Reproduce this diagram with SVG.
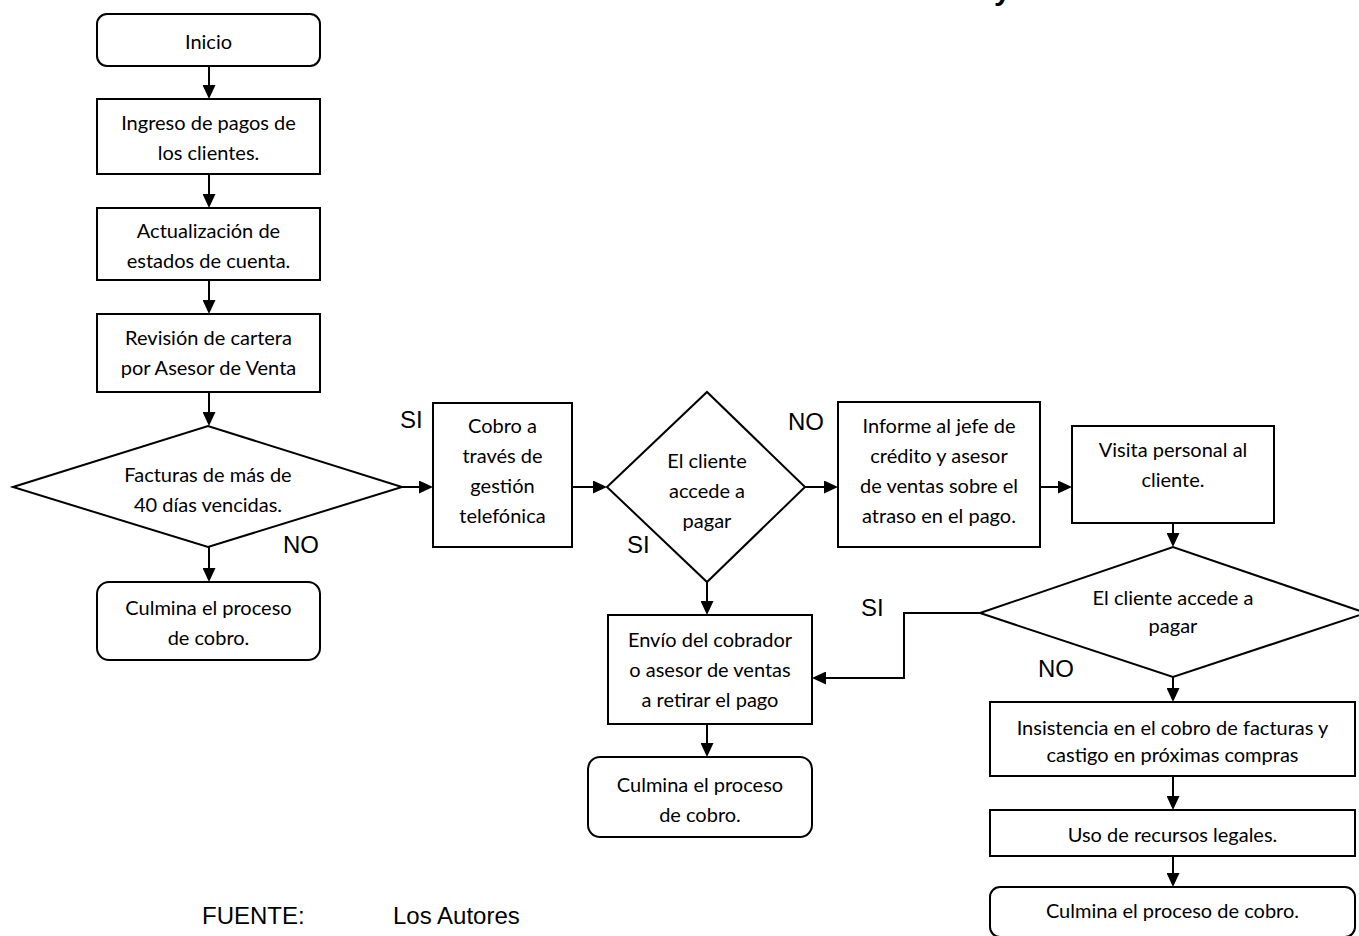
<svg xmlns="http://www.w3.org/2000/svg" width="1359" height="936" viewBox="0 0 1359 936">
  <style>
    .box { fill: #ffffff; stroke: #000000; stroke-width: 2; }
    .t { font-family: Lato, "Liberation Sans", sans-serif; font-size: 20px; fill: #000000; text-anchor: middle; }
    .lbl { font-family: "Liberation Sans", Arial, sans-serif; font-size: 24px; fill: #000000; }
    .edge { fill: none; stroke: #000000; stroke-width: 2; marker-end: url(#arrow); }
  </style>
  <defs>
    <marker id="arrow" markerUnits="userSpaceOnUse" markerWidth="14" markerHeight="13" refX="11" refY="6.5" orient="auto">
      <path d="M0,0 L14,6.5 L0,13 z" fill="#000000"/>
    </marker>
  </defs>
  <rect width="1359" height="936" fill="#ffffff"/>

  <!-- heading fragment above the frame -->
  <text x="994" y="0" font-family="Liberation Sans, Arial, sans-serif" font-size="30" font-weight="bold">y</text>

  <g id="connectors">
    <path class="edge" d="M209,66 V96"/>
    <path class="edge" d="M209,174 V205"/>
    <path class="edge" d="M209,280 V311"/>
    <path class="edge" d="M209,392 V423"/>
    <path class="edge" d="M209,547 V579"/>
    <path class="edge" d="M402,487 H430"/>
    <path class="edge" d="M572,487 H604"/>
    <path class="edge" d="M805,487 H835"/>
    <path class="edge" d="M1040,487 H1069"/>
    <path class="edge" d="M1173,523 V544"/>
    <path class="edge" d="M707,582 V612"/>
    <path class="edge" d="M707,724 V754"/>
    <path class="edge" d="M980,613 H904 V678 H815"/>
    <path class="edge" d="M1173,677 V699"/>
    <path class="edge" d="M1173,776 V807"/>
    <path class="edge" d="M1173,856 V884"/>
  </g>

  <g id="inicio">
    <rect class="box" x="97" y="14" width="223" height="52" rx="10"/>
    <text class="t" x="208.5" y="49">Inicio</text>
  </g>
  <g id="ingreso">
    <rect class="box" x="97" y="99" width="223" height="75"/>
    <text class="t" x="208.5" y="130">Ingreso de pagos de</text>
    <text class="t" x="208.5" y="160">los clientes.</text>
  </g>
  <g id="actualizacion">
    <rect class="box" x="97" y="208" width="223" height="72"/>
    <text class="t" x="208.5" y="238">Actualización de</text>
    <text class="t" x="208.5" y="268">estados de cuenta.</text>
  </g>
  <g id="revision">
    <rect class="box" x="97" y="314" width="223" height="78"/>
    <text class="t" x="208.5" y="345">Revisión de cartera</text>
    <text class="t" x="208.5" y="375">por Asesor de Venta</text>
  </g>
  <g id="facturas">
    <polygon class="box" points="13,487 208,426 402,487 208,547"/>
    <text class="t" x="208" y="482">Facturas de más de</text>
    <text class="t" x="208" y="512">40 días vencidas.</text>
  </g>
  <g id="culmina1">
    <rect class="box" x="97" y="582" width="223" height="78" rx="12"/>
    <text class="t" x="208.5" y="615">Culmina el proceso</text>
    <text class="t" x="208.5" y="645">de cobro.</text>
  </g>
  <g id="cobro">
    <rect class="box" x="433" y="403" width="139" height="144"/>
    <text class="t" x="502.5" y="433">Cobro a</text>
    <text class="t" x="502.5" y="463">través de</text>
    <text class="t" x="502.5" y="493">gestión</text>
    <text class="t" x="502.5" y="523">telefónica</text>
  </g>
  <g id="accede1">
    <polygon class="box" points="607,487 707,392 805,487 707,582"/>
    <text class="t" x="707" y="468">El cliente</text>
    <text class="t" x="707" y="498">accede a</text>
    <text class="t" x="707" y="528">pagar</text>
  </g>
  <g id="informe">
    <rect class="box" x="838" y="402" width="202" height="145"/>
    <text class="t" x="939" y="433">Informe al jefe de</text>
    <text class="t" x="939" y="463">crédito y asesor</text>
    <text class="t" x="939" y="493">de ventas sobre el</text>
    <text class="t" x="939" y="523">atraso en el pago.</text>
  </g>
  <g id="visita">
    <rect class="box" x="1072" y="426" width="202" height="97"/>
    <text class="t" x="1173" y="457">Visita personal al</text>
    <text class="t" x="1173" y="487">cliente.</text>
  </g>
  <g id="accede2">
    <polygon class="box" points="980,613 1173,547 1366,613 1173,677"/>
    <text class="t" x="1173" y="605">El cliente accede a</text>
    <text class="t" x="1173" y="633">pagar</text>
  </g>
  <g id="envio">
    <rect class="box" x="608" y="615" width="204" height="109"/>
    <text class="t" x="710" y="647">Envío del cobrador</text>
    <text class="t" x="710" y="677">o asesor de ventas</text>
    <text class="t" x="710" y="707">a retirar el pago</text>
  </g>
  <g id="culmina2">
    <rect class="box" x="588" y="757" width="224" height="80" rx="12"/>
    <text class="t" x="700" y="792">Culmina el proceso</text>
    <text class="t" x="700" y="822">de cobro.</text>
  </g>
  <g id="insistencia">
    <rect class="box" x="990" y="702" width="365" height="74"/>
    <text class="t" x="1172.5" y="735">Insistencia en el cobro de facturas y</text>
    <text class="t" x="1172.5" y="762">castigo en próximas compras</text>
  </g>
  <g id="recursos">
    <rect class="box" x="990" y="810" width="365" height="46"/>
    <text class="t" x="1172.5" y="842">Uso de recursos legales.</text>
  </g>
  <g id="culmina3">
    <rect class="box" x="990" y="887" width="365" height="50" rx="10"/>
    <text class="t" x="1172.5" y="918">Culmina el proceso de cobro.</text>
  </g>

  <g id="labels">
    <text class="lbl" x="400" y="428">SI</text>
    <text class="lbl" x="283" y="553">NO</text>
    <text class="lbl" x="627" y="553">SI</text>
    <text class="lbl" x="788" y="430">NO</text>
    <text class="lbl" x="861" y="616">SI</text>
    <text class="lbl" x="1038" y="677">NO</text>
  </g>

  <g id="fuente">
    <text class="lbl" x="202" y="924" font-size="25">FUENTE:</text>
    <text class="lbl" x="393" y="924" font-size="25">Los Autores</text>
  </g>
</svg>
